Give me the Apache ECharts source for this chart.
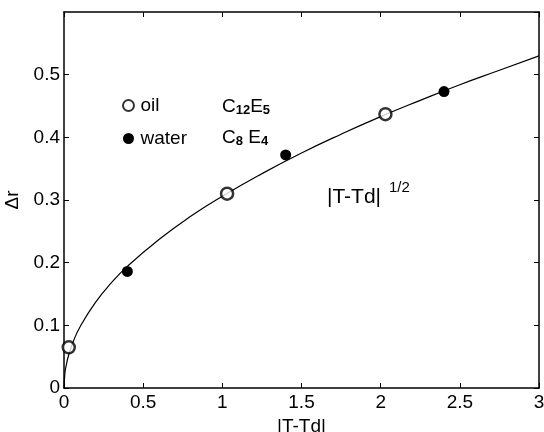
<!DOCTYPE html>
<html>
<head>
<meta charset="utf-8">
<script src="https://cdn.jsdelivr.net/npm/echarts@6/dist/echarts.min.js"></script>
<style>
  html, body { margin: 0; padding: 0; background: #fff; }
  #chart { width: 544px; height: 432px; }
</style>
</head>
<body>
<div id="chart"></div>
<script>
// points
var oilX = [0.03, 1.03, 2.03];
var oilY = [0.065, 0.31, 0.437];
var waterX = [0.4, 1.4, 2.4];
var waterY = [0.186, 0.372, 0.473];
// fitted curve, sampled by eye
var curveX = [0, 0.005, 0.01, 0.03, 0.06, 0.1, 0.2, 0.3, 0.4, 0.6, 0.8, 1, 1.25, 1.5, 1.75, 2, 2.25, 2.5, 2.75, 3];
var curveY = [0, 0.022, 0.031, 0.053, 0.075, 0.097, 0.137, 0.168, 0.194, 0.237, 0.274, 0.306, 0.342, 0.375, 0.405, 0.433, 0.459, 0.484, 0.507, 0.53];

function pairs(xs, ys) {
    var out = [];
    for (var i = 0; i < xs.length; i++) out.push([xs[i], ys[i]]);
    return out;
}

var font = 'Liberation Sans, Arial, Helvetica, sans-serif';
var tickStyle = { show: true, inside: true, length: 5, lineStyle: { color: '#000', width: 1 } };
var lineStyle = { show: true, onZero: false, lineStyle: { color: '#000', width: 1.5 } };

var option = {
    animation: false,
    backgroundColor: '#fff',
    textStyle: { fontFamily: font, color: '#000' },
    grid: { left: 64, top: 12, right: 5, bottom: 44, outerBoundsMode: 'none', containLabel: false },
    legend: {
        orient: 'vertical',
        left: 117,
        top: 91,
        itemGap: 14,
        itemWidth: 14,
        itemHeight: 11,
        data: ['oil', 'water'],
        textStyle: { fontFamily: font, fontSize: 19, color: '#000' }
    },
    xAxis: [{
        type: 'value',
        min: 0, max: 3, interval: 0.5,
        name: '|T-Td|',
        nameLocation: 'middle',
        nameGap: 24,
        nameTextStyle: { fontFamily: font, fontSize: 19, color: '#000' },
        axisLine: lineStyle,
        axisTick: tickStyle,
        splitLine: { show: false },
        axisLabel: { fontFamily: font, fontSize: 19, color: '#000', margin: 5 }
    }, {
        type: 'value',
        position: 'top',
        min: 0, max: 3, interval: 0.5,
        axisLine: lineStyle,
        axisTick: tickStyle,
        splitLine: { show: false },
        axisLabel: { show: false }
    }],
    yAxis: [{
        type: 'value',
        min: 0, max: 0.6, interval: 0.1,
        name: 'Δr',
        nameLocation: 'middle',
        nameGap: 28,
        nameRotate: 90,
        nameTextStyle: { fontFamily: font, fontSize: 19, color: '#000' },
        axisLine: lineStyle,
        axisTick: tickStyle,
        splitLine: { show: false },
        axisLabel: { fontFamily: font, fontSize: 19, color: '#000', margin: 4, showMaxLabel: false }
    }, {
        type: 'value',
        position: 'right',
        min: 0, max: 0.6, interval: 0.1,
        axisLine: lineStyle,
        axisTick: tickStyle,
        splitLine: { show: false },
        axisLabel: { show: false }
    }],
    series: [{
        name: 'fit',
        type: 'line',
        smooth: true,
        symbol: 'none',
        lineStyle: { color: '#000', width: 1.2 },
        data: pairs(curveX, curveY),
        z: 2
    }, {
        name: 'oil',
        type: 'scatter',
        symbol: 'circle',
        symbolSize: 12,
        itemStyle: { color: '#fff', borderColor: '#000', borderWidth: 2.5 },
        data: pairs(oilX, oilY),
        z: 3
    }, {
        name: 'water',
        type: 'scatter',
        symbol: 'circle',
        symbolSize: 11,
        itemStyle: { color: '#000', opacity: 1 },
        data: pairs(waterX, waterY),
        z: 3
    }, {
        // binds the mirrored top/right axes so they are drawn
        name: 'frame',
        type: 'line',
        xAxisIndex: 1,
        yAxisIndex: 1,
        symbol: 'none',
        lineStyle: { opacity: 0 },
        data: []
    }],
    graphic: [{
        type: 'text',
        left: 222,
        top: 97,
        style: {
            text: 'C{s|12}E{s|5}',
            fontFamily: font, fontSize: 19, fill: '#000',
            rich: { s: { fontFamily: font, fontSize: 13, fontWeight: 'bold', verticalAlign: 'bottom', padding: [8, 0, 0, 0] } }
        }
    }, {
        type: 'text',
        left: 222,
        top: 128,
        style: {
            text: 'C{s|8} E{s|4}',
            fontFamily: font, fontSize: 19, fill: '#000',
            rich: { s: { fontFamily: font, fontSize: 13, fontWeight: 'bold', verticalAlign: 'bottom', padding: [8, 0, 0, 0] } }
        }
    }, {
        type: 'text',
        left: 327,
        top: 187,
        style: { text: '|T-Td|', fontFamily: font, fontSize: 21, fill: '#000' }
    }, {
        type: 'text',
        left: 389,
        top: 180,
        style: { text: '1/2', fontFamily: font, fontSize: 15, fill: '#000' }
    }]
};

echarts.init(document.getElementById('chart')).setOption(option);
</script>
</body>
</html>
